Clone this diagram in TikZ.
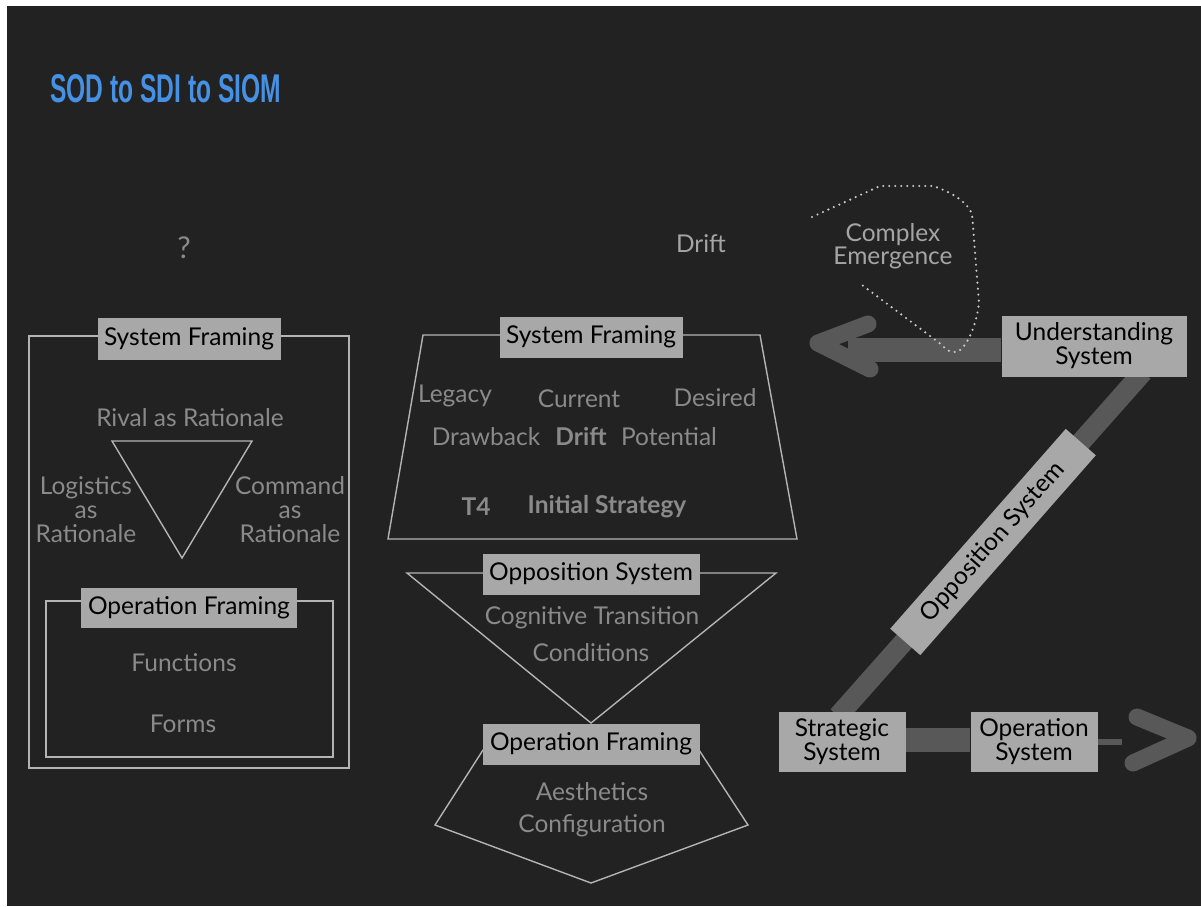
\documentclass[tikz,border=0pt]{standalone}
\usepackage{fontspec}
\setmainfont{Lato}
\newfontfamily\titlefont{Liberation Sans}
\usepackage{graphicx}
\pgfdeclarelayer{bgl}
\pgfdeclarelayer{strk}
\pgfsetlayers{bgl,strk,main}
\definecolor{bgc}{RGB}{34,34,34}
\definecolor{boxc}{RGB}{168,168,168}
\definecolor{txtc}{RGB}{138,138,138}
\definecolor{lightt}{RGB}{165,165,165}
\definecolor{lnc}{RGB}{180,180,180}
\definecolor{brush}{RGB}{88,88,88}
\definecolor{dotc}{RGB}{200,200,200}
\definecolor{titlec}{RGB}{70,145,228}
\begin{document}
\begin{tikzpicture}[x=1pt,y=-1pt,
  lbl/.style={fill=boxc,text=black,inner sep=0pt,font=\fontsize{24.5}{24}\selectfont,align=center},
  txt/.style={text=txtc,inner sep=0pt,font=\fontsize{24.5}{24}\selectfont,align=center},
  txtb/.style={txt,font=\fontsize{24.5}{24}\selectfont\bfseries},
  outl/.style={draw=lnc,line width=1.4pt,line join=miter},
  brushline/.style={draw=brush,line width=24pt},
  chev/.style={draw=brush,line width=17pt,line cap=round,line join=round},
  dots/.style={draw=dotc,line width=2.4pt,line cap=round,dash pattern=on 0pt off 6pt}]
\useasboundingbox (0,0) rectangle (1201,906);
\begin{pgfonlayer}{bgl}
\fill[white] (0,0) rectangle (1201,906);
\fill[bgc] (7,6) rectangle (1201,906);
\end{pgfonlayer}

% title
\node[anchor=south west,inner sep=0pt,text=titlec] (title) at (50,103)
  {\resizebox{231pt}{28pt}{\titlefont\bfseries SOD to SDI to SIOM}};

% ---------- left panel
\draw[outl] (29,336) rectangle (349,768);
\draw[outl] (112,441) -- (252,441) -- (182,558) -- cycle;
\draw[outl] (46,601) rectangle (333,757);
\node[lbl,minimum width=183pt,minimum height=42pt] (sf1) at (189,339) {System Framing};
\node[txt,font=\fontsize{30}{30}\selectfont] (q) at (184,248) {?};
\node[txt] (rival) at (190,418) {Rival as Rationale};
\node[txt] (logi) at (86,510) {Logistics\\as\\Rationale};
\node[txt] (cmd) at (290,510) {Command\\as\\Rationale};
\node[lbl,minimum width=216pt,minimum height=40pt] (of1) at (189,608) {Operation Framing};
\node[txt] (func) at (184,663) {Functions};
\node[txt] (forms) at (183,724) {Forms};

% ---------- middle panel
\draw[outl] (423,335) -- (760,335) -- (797,539) -- (388,539) -- cycle;
\node[lbl,minimum width=183pt,minimum height=41pt] (sf2) at (591,337) {System Framing};
\node[txt] (legacy) at (455,396) {Legacy};
\node[txt] (current) at (579,399) {Current};
\node[txt] (desired) at (715,398) {Desired};
\node[txt] (drawback) at (486,437) {Drawback};
\node[txtb] (drift2) at (581,437) {Drift};
\node[txt] (potential) at (669,437) {Potential};
\node[txtb] (t4) at (476,507) {T4};
\node[txtb] (init) at (607,507) {Initial Strategy};

\draw[outl] (407,573) -- (776,573) -- (591,723) -- cycle;
\node[lbl,minimum width=217pt,minimum height=41pt] (os1) at (591,574) {Opposition System};
\node[txt] (cog) at (592,618) {Cognitive Transition};
\node[txt] (cond) at (591,653) {Conditions};

\draw[outl] (483,750) -- (435,825) -- (591,883) -- (748,825) -- (699,750) -- cycle;
\node[lbl,minimum width=217pt,minimum height=41pt] (of2) at (591,744) {Operation Framing};
\node[txt] (aes) at (592,792) {Aesthetics};
\node[txt] (conf) at (592,826) {Configuration};

% ---------- right panel
\node[txt,text=lightt] (drift) at (701,244) {Drift};
\node[txt,text=lightt,font=\fontsize{24.5}{22.5}\selectfont] (ce) at (893,246) {Complex\\Emergence};
\draw[dots] (812,217) -- (880,186) -- (933,186)
  .. controls (952,192) and (968,203) .. (972,214)
  -- (979,303) .. controls (976,328) and (966,348) .. (957,352)
  .. controls (950,353) and (945,349) .. (942,345) -- (862,285);

\node[lbl,minimum width=185pt,minimum height=61pt] (us) at (1094,346) {Understanding\\System};
\node[lbl,minimum width=127pt,minimum height=60pt] (ss) at (842,742) {Strategic\\System};
\node[lbl,minimum width=127pt,minimum height=60pt] (ops) at (1034,742) {Operation\\System};
\node[lbl,minimum width=266pt,minimum height=40pt,rotate=48.7] (opp) at (993,542) {Opposition System};

\coordinate (lshaft) at (848,350);
\coordinate (lt1) at (868,324);
\coordinate (ltip) at (818,343);
\coordinate (lt2) at (870,369);
\coordinate (dtop) at (1143,372);
\coordinate (dbot) at (838,716);
\coordinate (rfaint) at (1122,742);
\coordinate (rt1) at (1137,717);
\coordinate (rtip) at (1188,738);
\coordinate (rt2) at (1133,763);

\begin{pgfonlayer}{strk}
\draw[brushline] ([yshift=-4pt]us.west) -- (lshaft);
\draw[chev] (lt1) -- (ltip) -- (lt2);
\draw[draw=brush,line width=20pt] (dtop) -- (dbot);
\draw[brushline] ([yshift=2pt]ss.east) -- ([yshift=2pt]ops.west);
\draw[draw=brush,line width=6pt] (ops.east) -- (rfaint);
\draw[chev] (rt1) -- (rtip) -- (rt2);
\end{pgfonlayer}
\end{tikzpicture}
\end{document}
